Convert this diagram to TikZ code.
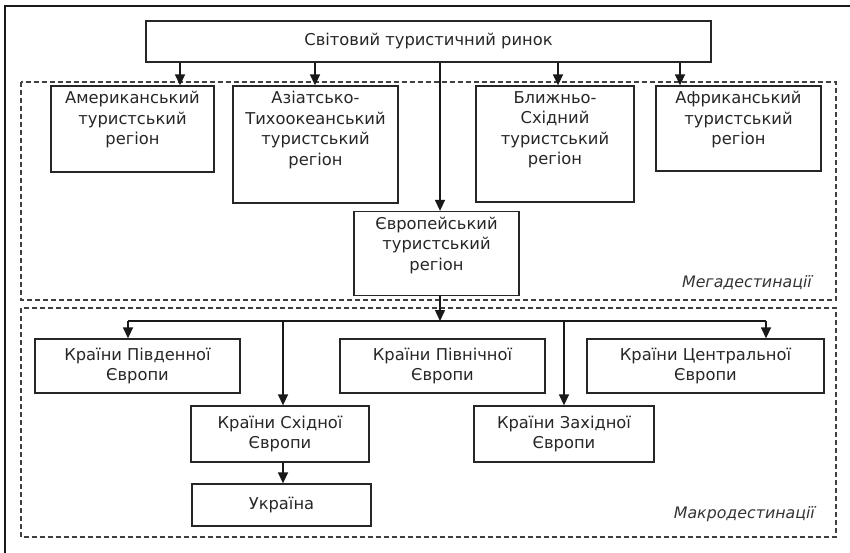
\documentclass[tikz,border=0pt]{standalone}
\usepackage{fontspec}
\setmainfont{DejaVu Sans}
\usetikzlibrary{arrows.meta,calc}
\begin{document}
\begin{tikzpicture}[x=1pt,y=-1pt,
  frame/.style={draw=black!85, line width=1.3pt, inner sep=0pt},
  txt/.style={align=center, inner sep=0pt, font=\fontsize{16.3}{20.5}\selectfont, text=black!85},
  arr/.style={draw=black!90, line width=1.4pt, -{Triangle[length=11pt,width=10pt]}},
  ln/.style={draw=black!90, line width=1.4pt},
  zone/.style={draw=black!75, line width=1.5pt, dash pattern=on 5pt off 3pt},
  lbl/.style={font=\fontsize{15.8}{17}\selectfont\itshape, anchor=east, inner sep=0pt, text=black!80}]
\useasboundingbox (0,0) rectangle (850,553);
% outer frame (top and left only)
\draw[line width=1.8pt, black!90] (5,553) -- (5,6) -- (850,6);
% zones
\draw[zone] (21,82) rectangle (836,300);
\draw[zone] (21,308) rectangle (836,537);
\node[lbl] (mega) at (812,283) {Мегадестинації};
\node[lbl] (macro) at (815,514) {Макродестинації};
% top box
\node[frame, minimum width=565, minimum height=41] (top) at (428.5,41.5) {};
\node[txt] (topt) at (top.center) {Світовий туристичний ринок};
% mega boxes
\node[frame, minimum width=163, minimum height=86] (amer) at (132.5,129) {};
\node[txt, anchor=north] (amert) at ($(amer.north)+(0,6)$) {Американський\\туристський\\регіон};
\node[frame, minimum width=165, minimum height=117] (asia) at (315.5,144.5) {};
\node[txt, anchor=north] (asiat) at ($(asia.north)+(0,6)$) {Азіатсько-\\Тихоокеанський\\туристський\\регіон};
\node[frame, minimum width=158, minimum height=116] (mide) at (555,144) {};
\node[txt, anchor=north] (midet) at ($(mide.north)+(0,6)$) {Ближньо-\\Східний\\туристський\\регіон};
\node[frame, minimum width=165, minimum height=85] (afr) at (738.5,128.5) {};
\node[txt, anchor=north] (afrt) at ($(afr.north)+(0,6)$) {Африканський\\туристський\\регіон};
\node[frame, minimum width=165, minimum height=84] (euro) at (436.5,253.5) {};
\node[txt, anchor=north] (eurot) at ($(euro.north)+(0,6)$) {Європейський\\туристський\\регіон};
% macro boxes
\node[frame, minimum width=205, minimum height=54] (south) at (137.5,366) {};
\node[txt] (southt) at (south.center) {Країни Південної\\Європи};
\node[frame, minimum width=205, minimum height=54] (north) at (442.5,366) {};
\node[txt] (northt) at (north.center) {Країни Північної\\Європи};
\node[frame, minimum width=237, minimum height=54] (centr) at (705.5,366) {};
\node[txt] (centrt) at (centr.center) {Країни Центральної\\Європи};
\node[frame, minimum width=178, minimum height=56] (east) at (280,434) {};
\node[txt] (eastt) at (east.center) {Країни Східної\\Європи};
\node[frame, minimum width=180, minimum height=56] (west) at (564,434) {};
\node[txt] (westt) at (west.center) {Країни Західної\\Європи};
\node[frame, minimum width=179, minimum height=42] (ukr) at (281.5,505) {};
\node[txt] (ukrt) at (ukr.center) {Україна};
% connector x positions
\coordinate (xa) at (180,0);
\coordinate (xb) at (315,0);
\coordinate (xe) at (440,0);
\coordinate (xc) at (558,0);
\coordinate (xd) at (680,0);
\coordinate (busL) at (128,321);
\coordinate (busE) at (440,321);
\coordinate (busW) at (564,321);
\coordinate (busEast) at (283,321);
\coordinate (busR) at (766,321);
% arrows from top
\draw[arr] (top.south -| xa) -- (amer.north -| xa);
\draw[arr] (top.south -| xb) -- (asia.north -| xb);
\draw[arr] (top.south -| xc) -- (mide.north -| xc);
\draw[arr] (top.south -| xd) -- (afr.north -| xd);
\draw[arr] (top.south -| xe) -- (euro.north -| xe);
% europe to bus
\draw[arr] (euro.south -| xe) -- (busE);
\draw[ln] (busL) -- (busR);
\draw[arr] (busL) -- (south.north -| busL);
\draw[arr] (busEast) -- (east.north -| busEast);
\draw[arr] (busW) -- (west.north -| busW);
\draw[arr] (busR) -- (centr.north -| busR);
\draw[arr] (east.south -| busEast) -- (ukr.north -| busEast);
\end{tikzpicture}
\end{document}
